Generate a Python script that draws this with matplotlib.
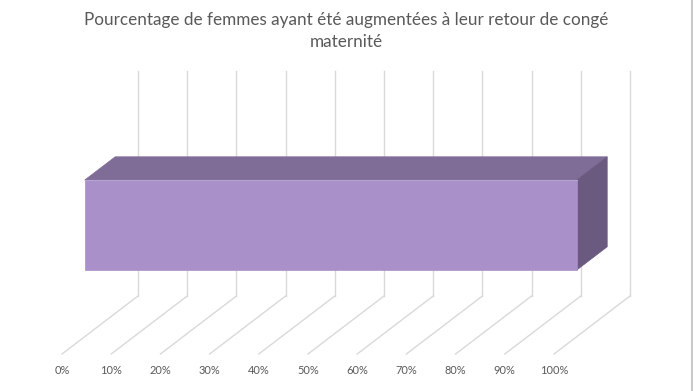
import matplotlib
matplotlib.use("Agg")
import matplotlib.pyplot as plt
from matplotlib.patches import Polygon

# données
categories = ["Femmes augmentées"]
values = [100]  # en %
ticks = [0, 10, 20, 30, 40, 50, 60, 70, 80, 90, 100]
tick_labels = ["0%", "10%", "20%", "30%", "40%", "50%", "60%", "70%", "80%", "90%", "100%"]
title = "Pourcentage de femmes ayant été augmentées à leur retour de congé\nmaternité"

# projection oblique (pixels de la figure)
X0, Y0 = 62.0, 354.0      # 0% sur le bord avant du sol
SX = 4.92                 # pixels par %
DX, DY = 76.0, -58.0      # décalage de profondeur (avant -> fond)
WALL_H = 225.0            # hauteur du mur du fond


def proj(v, d, h=0.0):
    return X0 + v * SX + d * DX, Y0 + d * DY - h


grid_col = "#d9d9d9"
txt_col = "#595959"

fig = plt.figure(figsize=(6.93, 3.91), dpi=100)
ax = fig.add_axes([0, 0, 1, 1])
ax.set_xlim(0, 693)
ax.set_ylim(391, 0)
ax.axis("off")

# mur du fond + lignes du sol
for t in ticks:
    xa, ya = proj(t, 0)
    xb, yb = proj(t, 1)
    ax.plot([xa, xb], [ya, yb], color=grid_col, lw=1, zorder=1)
    ax.plot([xb, xb], [yb, yb - WALL_H], color=grid_col, lw=1, zorder=1)

# barre 3D
d0, d1 = 0.30, 0.70
h0, h1 = 66.6, 156.6
for v in values:
    front = [proj(0, d0, h0), proj(v, d0, h0), proj(v, d0, h1), proj(0, d0, h1)]
    top = [proj(0, d0, h1), proj(v, d0, h1), proj(v, d1, h1), proj(0, d1, h1)]
    side = [proj(v, d0, h0), proj(v, d1, h0), proj(v, d1, h1), proj(v, d0, h1)]
    ax.add_patch(Polygon(top, closed=True, fc="#7f6c97", ec="#7f6c97", lw=0.5, zorder=3))
    ax.add_patch(Polygon(side, closed=True, fc="#6b5a80", ec="#6b5a80", lw=0.5, zorder=3))
    ax.add_patch(Polygon(front, closed=True, fc="#a990c9", ec="#a990c9", lw=0.5, zorder=4))
    ax.plot([front[3][0], front[2][0]], [front[3][1], front[2][1]], color="#b7a3d1", lw=0.8, zorder=5)

# étiquettes de l'axe
for t, lab in zip(ticks, tick_labels):
    x, y = proj(t, 0)
    ax.text(x, 370, lab, ha="center", va="center", fontsize=7.9,
            family="Lato", color=txt_col)

# titre
ax.text(346, 31, title, ha="center", va="center", fontsize=12.3,
        family="Lato", color=txt_col, linespacing=1.5)

# bordure droite
ax.plot([692, 692], [0, 391], color="#bfbfbf", lw=1.2)

fig.savefig("out.png", dpi=100)
